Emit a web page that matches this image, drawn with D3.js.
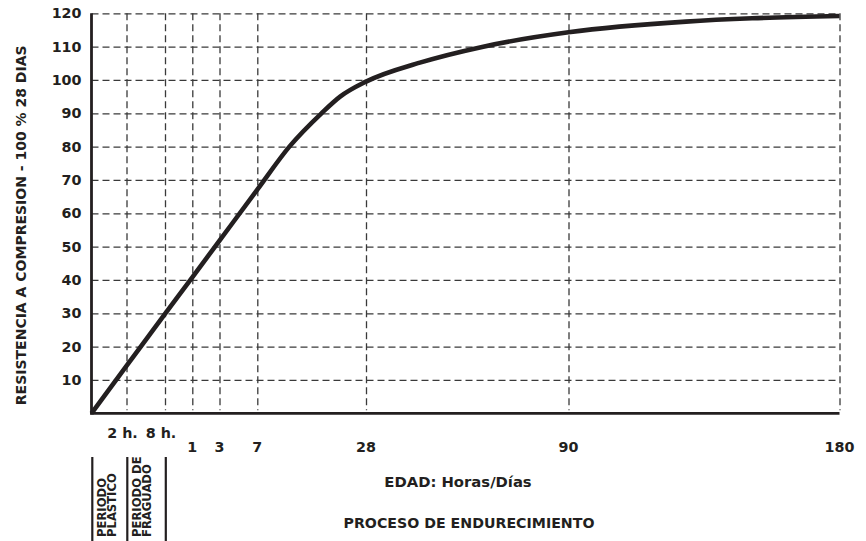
<!DOCTYPE html>
<html>
<head>
<meta charset="utf-8">
<script src="https://cdn.jsdelivr.net/npm/d3@7"></script>
<style>
  html, body { margin: 0; padding: 0; background: #fff; }
  svg { display: block; }
  text { font-family: "DejaVu Sans", "Liberation Sans", sans-serif; font-weight: bold; fill: #231f20; }
</style>
</head>
<body>
<svg id="chart" width="866" height="541"></svg>
<script>
// ---- data (age in days, strength in % of 28-day strength) ----
const ageDays = [0, 2/24, 8/24, 1, 3, 7, 13.2, 19.4, 23, 28, 44.5, 63.9, 90, 129, 151, 180];
const strength = [0, 14.2, 29.8, 40.8, 51.8, 67.1, 80, 90, 95, 99.5, 105.2, 110, 114.3, 117.5, 118.5, 119.2];

const xTickDays = [2/24, 8/24, 1, 3, 7, 28, 90, 180];
const xTickLabels = ["2 h.", "8 h.", "1", "3", "7", "28", "90", "180"];
const yTicks = [10, 20, 30, 40, 50, 60, 70, 80, 90, 100, 110, 120];

const yTitle = "RESISTENCIA A COMPRESION - 100 % 28 DIAS";
const xTitle = "EDAD: Horas/Días";
const processTitle = "PROCESO DE ENDURECIMIENTO";
const periodLabels = [["PERIODO", "PLASTICO"], ["PERIODO DE", "FRAGUADO"]];

// ---- layout ----
const svg = d3.select("#chart");
const ink = "#231f20";
const gridInk = "#3a3a3a";

// piecewise (non-uniform) age axis as in the original
const x = d3.scaleLinear()
  .domain([0, ...xTickDays])
  .range([91.5, 126.5, 165, 192.3, 219.5, 257.3, 366, 568.5, 839.5]);
const y = d3.scaleLinear().domain([0, 120]).range([413.3, 13.3]);

const x0 = x(0), x1 = x(180), y0 = y(0), y1 = y(120);

// horizontal dashed grid
svg.append("g")
  .attr("transform", `translate(${x0},0)`)
  .call(d3.axisLeft(y).tickValues(yTicks).tickSize(-(x1 - x0)).tickFormat(""))
  .call(g => g.select(".domain").remove())
  .call(g => g.selectAll("line")
    .attr("stroke", gridInk).attr("stroke-width", 1.3).attr("stroke-dasharray", "7,4"));

// vertical dashed grid
svg.append("g")
  .attr("transform", `translate(0,${y1})`)
  .call(d3.axisBottom(x).tickValues(xTickDays).tickSize(y0 - y1 - 3).tickFormat(""))
  .call(g => g.select(".domain").remove())
  .call(g => g.selectAll("line")
    .attr("stroke", gridInk).attr("stroke-width", 1.3).attr("stroke-dasharray", "7,4"));

// y tick labels
svg.append("g")
  .attr("transform", `translate(${x0},0)`)
  .call(d3.axisLeft(y).tickValues(yTicks).tickSize(0).tickPadding(10))
  .call(g => g.select(".domain").remove())
  .call(g => g.selectAll("text")
    .attr("font-family", "DejaVu Sans").attr("font-weight", "bold")
    .attr("font-size", 14.3).attr("fill", ink));

// solid axes
svg.append("line").attr("x1", x0).attr("x2", x0).attr("y1", y1).attr("y2", y0 + 1.3)
  .attr("stroke", ink).attr("stroke-width", 2.8);
svg.append("line").attr("x1", x0 - 1.3).attr("x2", x1).attr("y1", y0).attr("y2", y0)
  .attr("stroke", ink).attr("stroke-width", 2.8);

// x tick labels
svg.append("g").selectAll("text")
  .data(xTickDays)
  .join("text")
  .attr("x", (d, i) => x(d) + (i < 2 ? -4 : 0))
  .attr("y", (d, i) => i < 2 ? 437.7 : 451.5)
  .attr("text-anchor", "middle")
  .attr("font-size", 14.3)
  .text((d, i) => xTickLabels[i]);

// curve
const line = d3.line()
  .x((d, i) => x(ageDays[i]))
  .y(d => y(d))
  .curve(d3.curveMonotoneX);
svg.append("path")
  .attr("d", line(strength))
  .attr("fill", "none")
  .attr("stroke", ink)
  .attr("stroke-width", 4.6)
  .attr("stroke-linecap", "butt")
  .attr("stroke-linejoin", "round");

// y title
svg.append("text")
  .attr("transform", `translate(26,${(y0 + y1) / 2 + 12}) rotate(-90)`)
  .attr("text-anchor", "middle")
  .attr("font-size", 14)
  .text(yTitle);

// x titles
svg.append("text").attr("x", 458).attr("y", 487).attr("text-anchor", "middle")
  .attr("font-size", 14.8).text(xTitle);
svg.append("text").attr("x", 469).attr("y", 528).attr("text-anchor", "middle")
  .attr("font-size", 14.2).text(processTitle);

// period separators & labels
const sepDays = [0, 2/24, 8/24];
svg.append("g").selectAll("line")
  .data(sepDays)
  .join("line")
  .attr("x1", d => x(d) + 0.8).attr("x2", d => x(d) + 0.8)
  .attr("y1", 457).attr("y2", 541)
  .attr("stroke", ink).attr("stroke-width", 2.2);

periodLabels.forEach((lines, k) => {
  const left = x(sepDays[k]);
  lines.forEach((t, j) => {
    svg.append("text")
      .attr("transform", `translate(${left + 14.5 + j * 10},537) rotate(-90)`)
      .attr("font-size", 11.6)
      .text(t);
  });
});
</script>
</body>
</html>
